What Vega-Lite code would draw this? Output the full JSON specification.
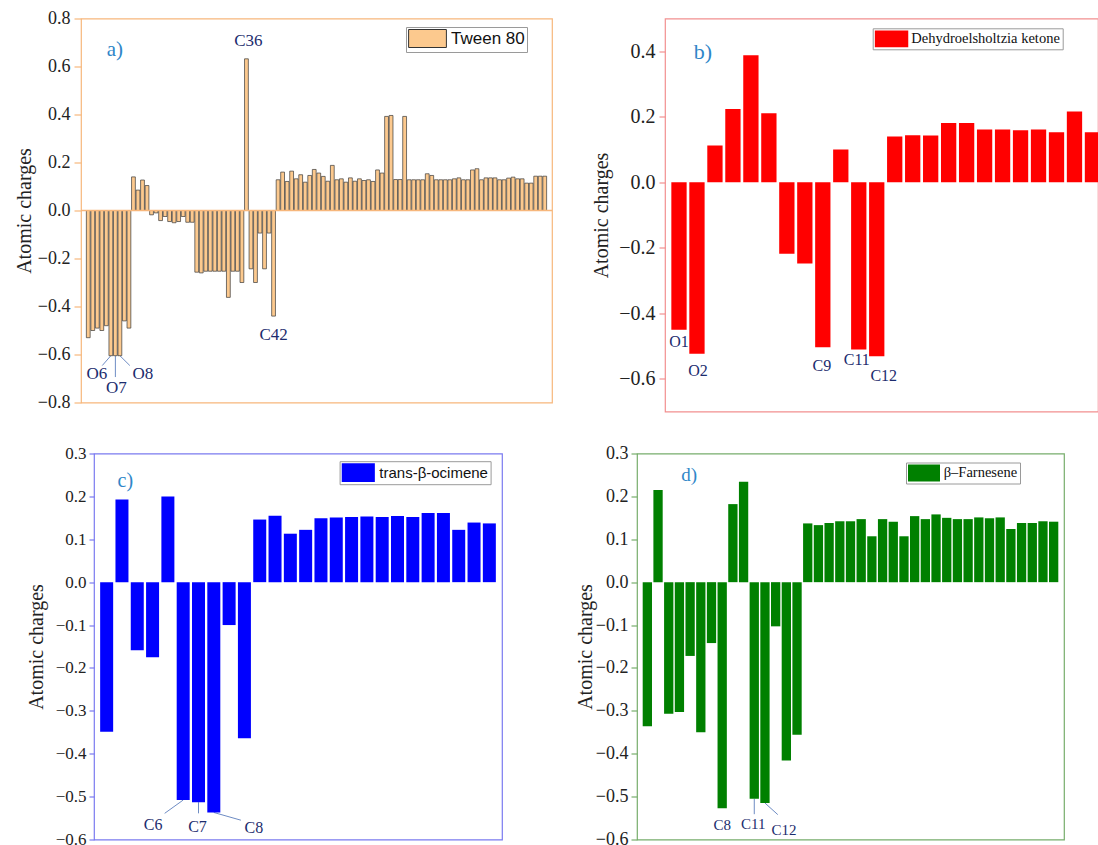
{
  "$schema": "https://vega.github.io/schema/vega-lite/v6.json",
  "background": "white",
  "padding": {"left": 13, "top": 8.5, "right": 0, "bottom": 0},
  "datasets": {
    "tween": [
      {"atom":1,"q":-0.53},{"atom":2,"q":-0.50},{"atom":3,"q":-0.49},{"atom":4,"q":-0.50},{"atom":5,"q":-0.48},
      {"atom":6,"q":-0.605,"label":"O6"},{"atom":7,"q":-0.605,"label":"O7"},{"atom":8,"q":-0.605,"label":"O8"},{"atom":9,"q":-0.46},{"atom":10,"q":-0.49},
      {"atom":11,"q":0.14},{"atom":12,"q":0.085},{"atom":13,"q":0.127},{"atom":14,"q":0.104},{"atom":15,"q":-0.018},
      {"atom":16,"q":-0.01},{"atom":17,"q":-0.042},{"atom":18,"q":-0.025},{"atom":19,"q":-0.046},{"atom":20,"q":-0.051},
      {"atom":21,"q":-0.046},{"atom":22,"q":-0.025},{"atom":23,"q":-0.049},{"atom":24,"q":-0.049},{"atom":25,"q":-0.257},
      {"atom":26,"q":-0.26},{"atom":27,"q":-0.253},{"atom":28,"q":-0.253},{"atom":29,"q":-0.253},{"atom":30,"q":-0.253},
      {"atom":31,"q":-0.253},{"atom":32,"q":-0.362},{"atom":33,"q":-0.253},{"atom":34,"q":-0.253},{"atom":35,"q":-0.30},
      {"atom":36,"q":0.632,"label":"C36"},{"atom":37,"q":-0.243},{"atom":38,"q":-0.30},{"atom":39,"q":-0.094},{"atom":40,"q":-0.243},
      {"atom":41,"q":-0.094},{"atom":42,"q":-0.44,"label":"C42"},
      {"atom":43,"q":0.128},{"atom":44,"q":0.16},{"atom":45,"q":0.121},{"atom":46,"q":0.164},{"atom":47,"q":0.132},
      {"atom":48,"q":0.149},{"atom":49,"q":0.118},{"atom":50,"q":0.146},{"atom":51,"q":0.171},{"atom":52,"q":0.156},
      {"atom":53,"q":0.142},{"atom":54,"q":0.122},{"atom":55,"q":0.188},{"atom":56,"q":0.128},{"atom":57,"q":0.132},
      {"atom":58,"q":0.118},{"atom":59,"q":0.136},{"atom":60,"q":0.122},{"atom":61,"q":0.132},{"atom":62,"q":0.125},
      {"atom":63,"q":0.128},{"atom":64,"q":0.121},{"atom":65,"q":0.169},{"atom":66,"q":0.156},{"atom":67,"q":0.392},
      {"atom":68,"q":0.396},{"atom":69,"q":0.129},{"atom":70,"q":0.129},{"atom":71,"q":0.392},{"atom":72,"q":0.128},
      {"atom":73,"q":0.128},{"atom":74,"q":0.128},{"atom":75,"q":0.128},{"atom":76,"q":0.153},{"atom":77,"q":0.146},
      {"atom":78,"q":0.128},{"atom":79,"q":0.128},{"atom":80,"q":0.128},{"atom":81,"q":0.128},{"atom":82,"q":0.132},
      {"atom":83,"q":0.136},{"atom":84,"q":0.128},{"atom":85,"q":0.128},{"atom":86,"q":0.169},{"atom":87,"q":0.174},
      {"atom":88,"q":0.128},{"atom":89,"q":0.136},{"atom":90,"q":0.136},{"atom":91,"q":0.136},{"atom":92,"q":0.128},
      {"atom":93,"q":0.128},{"atom":94,"q":0.135},{"atom":95,"q":0.139},{"atom":96,"q":0.132},{"atom":97,"q":0.132},
      {"atom":98,"q":0.114},{"atom":99,"q":0.114},{"atom":100,"q":0.143},{"atom":101,"q":0.143},{"atom":102,"q":0.143}
    ],
    "dehydro": [
      {"atom":1,"q":-0.45,"label":"O1"},{"atom":2,"q":-0.524,"label":"O2"},{"atom":3,"q":0.112},{"atom":4,"q":0.224},
      {"atom":5,"q":0.388},{"atom":6,"q":0.211},{"atom":7,"q":-0.218},{"atom":8,"q":-0.248},
      {"atom":9,"q":-0.504,"label":"C9"},{"atom":10,"q":0.10},{"atom":11,"q":-0.511,"label":"C11"},{"atom":12,"q":-0.531,"label":"C12"},
      {"atom":13,"q":0.14},{"atom":14,"q":0.1435},{"atom":15,"q":0.1425},{"atom":16,"q":0.181},{"atom":17,"q":0.181},
      {"atom":18,"q":0.161},{"atom":19,"q":0.161},{"atom":20,"q":0.159},{"atom":21,"q":0.161},{"atom":22,"q":0.153},
      {"atom":23,"q":0.216},{"atom":24,"q":0.153}
    ],
    "ocimene": [
      {"atom":1,"q":-0.349},{"atom":2,"q":0.193},{"atom":3,"q":-0.159},{"atom":4,"q":-0.175},{"atom":5,"q":0.2},
      {"atom":6,"q":-0.508,"label":"C6"},{"atom":7,"q":-0.513,"label":"C7"},{"atom":8,"q":-0.537,"label":"C8"},
      {"atom":9,"q":-0.10},{"atom":10,"q":-0.364},{"atom":11,"q":0.146},{"atom":12,"q":0.155},{"atom":13,"q":0.113},
      {"atom":14,"q":0.122},{"atom":15,"q":0.149},{"atom":16,"q":0.151},{"atom":17,"q":0.152},{"atom":18,"q":0.153},
      {"atom":19,"q":0.152},{"atom":20,"q":0.154},{"atom":21,"q":0.152},{"atom":22,"q":0.161},{"atom":23,"q":0.161},
      {"atom":24,"q":0.122},{"atom":25,"q":0.139},{"atom":26,"q":0.137}
    ],
    "farnesene": [
      {"atom":1,"q":-0.336},{"atom":2,"q":0.215},{"atom":3,"q":-0.307},{"atom":4,"q":-0.303},{"atom":5,"q":-0.172},
      {"atom":6,"q":-0.35},{"atom":7,"q":-0.142},{"atom":8,"q":-0.527,"label":"C8"},{"atom":9,"q":0.182},{"atom":10,"q":0.234},
      {"atom":11,"q":-0.505,"label":"C11"},{"atom":12,"q":-0.515,"label":"C12"},{"atom":13,"q":-0.103},{"atom":14,"q":-0.416},
      {"atom":15,"q":-0.356},{"atom":16,"q":0.137},{"atom":17,"q":0.133},{"atom":18,"q":0.138},{"atom":19,"q":0.142},
      {"atom":20,"q":0.142},{"atom":21,"q":0.147},{"atom":22,"q":0.107},{"atom":23,"q":0.147},{"atom":24,"q":0.141},
      {"atom":25,"q":0.107},{"atom":26,"q":0.154},{"atom":27,"q":0.147},{"atom":28,"q":0.158},{"atom":29,"q":0.150},
      {"atom":30,"q":0.147},{"atom":31,"q":0.147},{"atom":32,"q":0.151},{"atom":33,"q":0.149},{"atom":34,"q":0.151},
      {"atom":35,"q":0.124},{"atom":36,"q":0.138},{"atom":37,"q":0.138},{"atom":38,"q":0.142},{"atom":39,"q":0.141}
    ]
  },
  "spacing": 31,
  "resolve": {"scale": {"color": "independent"}, "legend": {"color": "independent"}},
  "vconcat": [
    {
      "hconcat": [
        {
          "width": 471, "height": 384,
          "view": {"stroke": "#F7B77C", "strokeWidth": 1.2},
          "layer": [
            {
              "data": {"name": "tween"},
              "encoding": {
                "y": {"field": "q", "type": "quantitative", "stack": null,
                  "scale": {"domain": [-0.8, 0.8], "nice": false},
                  "axis": {"title": "Atomic charges", "values": [-0.8,-0.6,-0.4,-0.2,0,0.2,0.4,0.6,0.8], "format": ".1f",
                    "grid": false, "domain": false, "tickColor": "#F7B77C", "tickWidth": 1.2, "tickSize": 7, "labelPadding": 4,
                    "labelFont": "Liberation Serif", "labelFontSize": 18, "labelColor": "#222222",
                    "titleFont": "Liberation Serif", "titleFontSize": 20, "titleFontWeight": "normal", "titleColor": "#222222",
                    "titlePadding": 5, "minExtent": 42, "maxExtent": 42}}
              },
              "layer": [
                {"transform": [{"filter": "datum.label === 'O6'"}],
                 "mark": {"type": "rule", "color": "#6E8CC4", "strokeWidth": 1},
                 "encoding": {"x": {"field": "atom", "type": "quantitative", "scale": {"domain": [0.5, 102.5], "nice": false, "zero": false}, "axis": null},
                   "x2": {"datum": 4.1}, "y2": {"datum": -0.646}}},
                {"transform": [{"filter": "datum.label === 'O7'"}],
                 "mark": {"type": "rule", "color": "#6E8CC4", "strokeWidth": 1},
                 "encoding": {"x": {"field": "atom", "type": "quantitative", "scale": {"domain": [0.5, 102.5], "nice": false, "zero": false}, "axis": null},
                   "y2": {"datum": -0.694}}},
                {"transform": [{"filter": "datum.label === 'O8'"}],
                 "mark": {"type": "rule", "color": "#6E8CC4", "strokeWidth": 1},
                 "encoding": {"x": {"field": "atom", "type": "quantitative", "scale": {"domain": [0.5, 102.5], "nice": false, "zero": false}, "axis": null},
                   "x2": {"datum": 10.2}, "y2": {"datum": -0.646}}},
                {"mark": {"type": "bar", "orient": "vertical", "width": 3.8, "stroke": "#3a3a3a", "strokeWidth": 0.7},
                 "encoding": {
                   "x": {"field": "atom", "type": "quantitative", "scale": {"domain": [0.5, 102.5], "nice": false, "zero": false}, "axis": null},
                   "color": {"datum": "Tween 80", "type": "nominal", "scale": {"range": ["#FCC98E"]},
                     "legend": {"orient": "none", "legendX": 325, "legendY": 8.5, "title": null,
                       "symbolType": "M-2.1,-1H2.1V1H-2.1Z", "symbolSize": 324, "symbolOffset": 10,
                       "symbolStrokeColor": "#333333", "symbolStrokeWidth": 1,
                       "labelFont": "Liberation Sans", "labelFontSize": 17, "labelColor": "#111111", "labelOffset": 14,
                       "strokeColor": "#9a9a9a", "fillColor": "#ffffff", "padding": 2}}}},
                {"data": {"values": [{"q": 0}]},
                 "mark": {"type": "rule", "color": "#F7B77C", "strokeWidth": 1.5},
                 "encoding": {}},
                {"transform": [{"filter": "datum.label === 'C36'"}],
                 "mark": {"type": "text", "dx": 2, "dy": -18, "font": "Liberation Serif", "fontSize": 17, "color": "#1C2C6E"},
                 "encoding": {"x": {"field": "atom", "type": "quantitative", "scale": {"domain": [0.5, 102.5], "nice": false, "zero": false}, "axis": null},
                   "text": {"field": "label"}}},
                {"transform": [{"filter": "datum.label === 'C42'"}],
                 "mark": {"type": "text", "dx": 0, "dy": 19, "font": "Liberation Serif", "fontSize": 17, "color": "#1C2C6E"},
                 "encoding": {"x": {"field": "atom", "type": "quantitative", "scale": {"domain": [0.5, 102.5], "nice": false, "zero": false}, "axis": null},
                   "text": {"field": "label"}}},
                {"transform": [{"filter": "datum.label === 'O6'"}],
                 "mark": {"type": "text", "dx": -14, "dy": 18, "font": "Liberation Serif", "fontSize": 17, "color": "#1C2C6E"},
                 "encoding": {"x": {"field": "atom", "type": "quantitative", "scale": {"domain": [0.5, 102.5], "nice": false, "zero": false}, "axis": null},
                   "text": {"field": "label"}}},
                {"transform": [{"filter": "datum.label === 'O7'"}],
                 "mark": {"type": "text", "dx": 1, "dy": 32, "font": "Liberation Serif", "fontSize": 17, "color": "#1C2C6E"},
                 "encoding": {"x": {"field": "atom", "type": "quantitative", "scale": {"domain": [0.5, 102.5], "nice": false, "zero": false}, "axis": null},
                   "text": {"field": "label"}}},
                {"transform": [{"filter": "datum.label === 'O8'"}],
                 "mark": {"type": "text", "dx": 23, "dy": 18, "font": "Liberation Serif", "fontSize": 17, "color": "#1C2C6E"},
                 "encoding": {"x": {"field": "atom", "type": "quantitative", "scale": {"domain": [0.5, 102.5], "nice": false, "zero": false}, "axis": null},
                   "text": {"field": "label"}}}
              ]
            },
            {"data": {"values": [{"panel": "a)"}]},
             "mark": {"type": "text", "align": "left", "baseline": "alphabetic", "font": "Liberation Serif", "fontSize": 21, "color": "#2F86C8"},
             "encoding": {"x": {"datum": 5.07, "type": "quantitative", "scale": {"domain": [0.5, 102.5], "nice": false, "zero": false}, "axis": null},
               "y": {"datum": 0.645, "type": "quantitative", "scale": {"domain": [-0.8, 0.8], "nice": false}},
               "text": {"field": "panel"}}}
          ]
        },
        {
          "width": 433, "height": 393,
          "view": {"stroke": "#F29090", "strokeWidth": 1.2},
          "layer": [
            {
              "data": {"name": "dehydro"},
              "encoding": {
                "y": {"field": "q", "type": "quantitative", "stack": null,
                  "scale": {"domain": [-0.7, 0.5], "nice": false},
                  "axis": {"title": "Atomic charges", "values": [-0.6,-0.4,-0.2,0,0.2,0.4], "format": ".1f",
                    "grid": false, "domain": false, "tickColor": "#F29090", "tickWidth": 1.2, "tickSize": 6, "labelPadding": 4,
                    "labelFont": "Liberation Serif", "labelFontSize": 20, "labelColor": "#222222",
                    "titleFont": "Liberation Serif", "titleFontSize": 20, "titleFontWeight": "normal", "titleColor": "#222222",
                    "titlePadding": 7, "minExtent": 47, "maxExtent": 47}}
              },
              "layer": [
                {"mark": {"type": "bar", "orient": "vertical", "width": 15.3, "clip": true},
                 "encoding": {
                   "x": {"field": "atom", "type": "quantitative", "scale": {"domain": [0.5, 24.03], "nice": false, "zero": false}, "axis": null},
                   "color": {"datum": "Dehydroelsholtzia ketone", "type": "nominal", "scale": {"range": ["#FF0000"]},
                     "legend": {"orient": "none", "legendX": 207.7, "legendY": 9.8, "title": null,
                       "symbolType": "M-2,-1H2V1H-2Z", "symbolSize": 279, "symbolOffset": 8.35, "symbolStrokeWidth": 0,
                       "labelFont": "Liberation Serif", "labelFontSize": 14.5, "labelColor": "#111111", "labelOffset": 11.2,
                       "strokeColor": "#9a9a9a", "fillColor": "#ffffff", "padding": 2, "labelLimit": 400}}}},
                {"transform": [{"filter": "datum.label === 'O1'"}],
                 "mark": {"type": "text", "dx": 0, "dy": 12, "font": "Liberation Serif", "fontSize": 16, "color": "#1C2C6E"},
                 "encoding": {"x": {"field": "atom", "type": "quantitative", "scale": {"domain": [0.5, 24.03], "nice": false, "zero": false}, "axis": null},
                   "text": {"field": "label"}}},
                {"transform": [{"filter": "datum.label === 'O2'"}],
                 "mark": {"type": "text", "dx": 1, "dy": 17, "font": "Liberation Serif", "fontSize": 16, "color": "#1C2C6E"},
                 "encoding": {"x": {"field": "atom", "type": "quantitative", "scale": {"domain": [0.5, 24.03], "nice": false, "zero": false}, "axis": null},
                   "text": {"field": "label"}}},
                {"transform": [{"filter": "datum.label === 'C9'"}],
                 "mark": {"type": "text", "dx": -1, "dy": 19, "font": "Liberation Serif", "fontSize": 16, "color": "#1C2C6E"},
                 "encoding": {"x": {"field": "atom", "type": "quantitative", "scale": {"domain": [0.5, 24.03], "nice": false, "zero": false}, "axis": null},
                   "text": {"field": "label"}}},
                {"transform": [{"filter": "datum.label === 'C11'"}],
                 "mark": {"type": "text", "dx": -2, "dy": 10, "font": "Liberation Serif", "fontSize": 16, "color": "#1C2C6E"},
                 "encoding": {"x": {"field": "atom", "type": "quantitative", "scale": {"domain": [0.5, 24.03], "nice": false, "zero": false}, "axis": null},
                   "text": {"field": "label"}}},
                {"transform": [{"filter": "datum.label === 'C12'"}],
                 "mark": {"type": "text", "dx": 7, "dy": 20, "font": "Liberation Serif", "fontSize": 16, "color": "#1C2C6E"},
                 "encoding": {"x": {"field": "atom", "type": "quantitative", "scale": {"domain": [0.5, 24.03], "nice": false, "zero": false}, "axis": null},
                   "text": {"field": "label"}}}
              ]
            },
            {"data": {"values": [{"panel": "b)"}]},
             "mark": {"type": "text", "align": "left", "baseline": "alphabetic", "font": "Liberation Serif", "fontSize": 22, "color": "#2F86C8"},
             "encoding": {"x": {"datum": 1.82, "type": "quantitative", "scale": {"domain": [0.5, 24.03], "nice": false, "zero": false}, "axis": null},
               "y": {"datum": 0.376, "type": "quantitative", "scale": {"domain": [-0.7, 0.5], "nice": false}},
               "text": {"field": "panel"}}}
          ]
        }
      ],
      "spacing": 113,
      "bounds": "flush",
      "resolve": {"scale": {"color": "independent"}, "legend": {"color": "independent"}}
    },
    {
      "hconcat": [
        {"width": 1, "height": 10, "data": {"values": []}, "mark": {"type": "point", "opacity": 0}, "view": {"stroke": null}},
        {
          "width": 408, "height": 386,
          "view": {"stroke": "#7B7BF0", "strokeWidth": 1.2},
          "layer": [
            {
              "data": {"name": "ocimene"},
              "encoding": {
                "y": {"field": "q", "type": "quantitative", "stack": null,
                  "scale": {"domain": [-0.6, 0.3], "nice": false},
                  "axis": {"title": "Atomic charges", "values": [-0.6,-0.5,-0.4,-0.3,-0.2,-0.1,0,0.1,0.2,0.3], "format": ".1f",
                    "grid": false, "domain": false, "tickColor": "#7B7BF0", "tickWidth": 1.2, "tickSize": 5, "labelPadding": 3,
                    "labelFont": "Liberation Serif", "labelFontSize": 17, "labelColor": "#222222",
                    "titleFont": "Liberation Serif", "titleFontSize": 20, "titleFontWeight": "normal", "titleColor": "#222222",
                    "titlePadding": 5, "minExtent": 43, "maxExtent": 43}}
              },
              "layer": [
                {"transform": [{"filter": "datum.label === 'C6'"}],
                 "mark": {"type": "rule", "color": "#6E8CC4", "strokeWidth": 1},
                 "encoding": {"x": {"field": "atom", "type": "quantitative", "scale": {"domain": [0.5, 26.5], "nice": false, "zero": false}, "axis": null},
                   "x2": {"datum": 4.79}, "y2": {"datum": -0.539}}},
                {"transform": [{"filter": "datum.label === 'C7'"}],
                 "mark": {"type": "rule", "color": "#6E8CC4", "strokeWidth": 1},
                 "encoding": {"x": {"field": "atom", "type": "quantitative", "scale": {"domain": [0.5, 26.5], "nice": false, "zero": false}, "axis": null},
                   "y2": {"datum": -0.539}}},
                {"transform": [{"filter": "datum.label === 'C8'"}],
                 "mark": {"type": "rule", "color": "#6E8CC4", "strokeWidth": 1},
                 "encoding": {"x": {"field": "atom", "type": "quantitative", "scale": {"domain": [0.5, 26.5], "nice": false, "zero": false}, "axis": null},
                   "x2": {"datum": 9.77}, "y2": {"datum": -0.555}}},
                {"mark": {"type": "bar", "orient": "vertical", "width": 13},
                 "encoding": {
                   "x": {"field": "atom", "type": "quantitative", "scale": {"domain": [0.5, 26.5], "nice": false, "zero": false}, "axis": null},
                   "color": {"datum": "trans-β-ocimene", "type": "nominal", "scale": {"range": ["#0000FF"]},
                     "legend": {"orient": "none", "legendX": 245.6, "legendY": 7.7, "title": null,
                       "symbolType": "M-1.77,-1H1.77V1H-1.77Z", "symbolSize": 350, "symbolOffset": 7.2, "symbolStrokeWidth": 0,
                       "labelFont": "Liberation Sans", "labelFontSize": 15, "labelColor": "#111111", "labelOffset": 11.5,
                       "strokeColor": "#9a9a9a", "fillColor": "#ffffff", "padding": 2, "labelLimit": 400}}}},
                {"transform": [{"filter": "datum.label === 'C6'"}],
                 "mark": {"type": "text", "dx": -30, "dy": 25, "font": "Liberation Serif", "fontSize": 16, "color": "#1C2C6E"},
                 "encoding": {"x": {"field": "atom", "type": "quantitative", "scale": {"domain": [0.5, 26.5], "nice": false, "zero": false}, "axis": null},
                   "text": {"field": "label"}}},
                {"transform": [{"filter": "datum.label === 'C7'"}],
                 "mark": {"type": "text", "dx": -1, "dy": 25, "font": "Liberation Serif", "fontSize": 16, "color": "#1C2C6E"},
                 "encoding": {"x": {"field": "atom", "type": "quantitative", "scale": {"domain": [0.5, 26.5], "nice": false, "zero": false}, "axis": null},
                   "text": {"field": "label"}}},
                {"transform": [{"filter": "datum.label === 'C8'"}],
                 "mark": {"type": "text", "dx": 40, "dy": 16, "font": "Liberation Serif", "fontSize": 16, "color": "#1C2C6E"},
                 "encoding": {"x": {"field": "atom", "type": "quantitative", "scale": {"domain": [0.5, 26.5], "nice": false, "zero": false}, "axis": null},
                   "text": {"field": "label"}}}
              ]
            },
            {"data": {"values": [{"panel": "c)"}]},
             "mark": {"type": "text", "align": "left", "baseline": "alphabetic", "font": "Liberation Serif", "fontSize": 20, "color": "#2F86C8"},
             "encoding": {"x": {"datum": 1.71, "type": "quantitative", "scale": {"domain": [0.5, 26.5], "nice": false, "zero": false}, "axis": null},
               "y": {"datum": 0.221, "type": "quantitative", "scale": {"domain": [-0.6, 0.3], "nice": false}},
               "text": {"field": "panel"}}}
          ]
        },
        {"width": 111, "height": 10, "data": {"values": []}, "mark": {"type": "point", "opacity": 0}, "view": {"stroke": null}},
        {
          "width": 427, "height": 386,
          "view": {"stroke": "#77AD6C", "strokeWidth": 1.2},
          "layer": [
            {
              "data": {"name": "farnesene"},
              "encoding": {
                "y": {"field": "q", "type": "quantitative", "stack": null,
                  "scale": {"domain": [-0.6, 0.3], "nice": false},
                  "axis": {"title": "Atomic charges", "values": [-0.6,-0.5,-0.4,-0.3,-0.2,-0.1,0,0.1,0.2,0.3], "format": ".1f",
                    "grid": false, "domain": false, "tickColor": "#77AD6C", "tickWidth": 1.2, "tickSize": 6, "labelPadding": 3,
                    "labelFont": "Liberation Serif", "labelFontSize": 18, "labelColor": "#222222",
                    "titleFont": "Liberation Serif", "titleFontSize": 20, "titleFontWeight": "normal", "titleColor": "#222222",
                    "titlePadding": 2, "minExtent": 40, "maxExtent": 40}}
              },
              "layer": [
                {"transform": [{"filter": "datum.label === 'C11'"}],
                 "mark": {"type": "rule", "color": "#6E8CC4", "strokeWidth": 1},
                 "encoding": {"x": {"field": "atom", "type": "quantitative", "scale": {"domain": [0.5, 39.5], "nice": false, "zero": false}, "axis": null},
                   "y2": {"datum": -0.541}}},
                {"transform": [{"filter": "datum.label === 'C12'"}],
                 "mark": {"type": "rule", "color": "#6E8CC4", "strokeWidth": 1},
                 "encoding": {"x": {"field": "atom", "type": "quantitative", "scale": {"domain": [0.5, 39.5], "nice": false, "zero": false}, "axis": null},
                   "x2": {"datum": 13.2}, "y2": {"datum": -0.542}}},
                {"mark": {"type": "bar", "orient": "vertical", "width": 9.3},
                 "encoding": {
                   "x": {"field": "atom", "type": "quantitative", "scale": {"domain": [0.5, 39.5], "nice": false, "zero": false}, "axis": null},
                   "color": {"datum": "β–Farnesene", "type": "nominal", "scale": {"range": ["#008000"]},
                     "legend": {"orient": "none", "legendX": 269, "legendY": 9, "title": null,
                       "symbolType": "M-1.88,-1H1.88V1H-1.88Z", "symbolSize": 289, "symbolOffset": 7.5, "symbolStrokeWidth": 0,
                       "labelFont": "Liberation Serif", "labelFontSize": 14.5, "labelColor": "#111111", "labelOffset": 11.2,
                       "strokeColor": "#9a9a9a", "fillColor": "#ffffff", "padding": 2, "labelLimit": 400}}}},
                {"transform": [{"filter": "datum.label === 'C8'"}],
                 "mark": {"type": "text", "dx": 0, "dy": 17, "font": "Liberation Serif", "fontSize": 15, "color": "#1C2C6E"},
                 "encoding": {"x": {"field": "atom", "type": "quantitative", "scale": {"domain": [0.5, 39.5], "nice": false, "zero": false}, "axis": null},
                   "text": {"field": "label"}}},
                {"transform": [{"filter": "datum.label === 'C11'"}],
                 "mark": {"type": "text", "dx": -1, "dy": 25, "font": "Liberation Serif", "fontSize": 15, "color": "#1C2C6E"},
                 "encoding": {"x": {"field": "atom", "type": "quantitative", "scale": {"domain": [0.5, 39.5], "nice": false, "zero": false}, "axis": null},
                   "text": {"field": "label"}}},
                {"transform": [{"filter": "datum.label === 'C12'"}],
                 "mark": {"type": "text", "dx": 19, "dy": 27, "font": "Liberation Serif", "fontSize": 15, "color": "#1C2C6E"},
                 "encoding": {"x": {"field": "atom", "type": "quantitative", "scale": {"domain": [0.5, 39.5], "nice": false, "zero": false}, "axis": null},
                   "text": {"field": "label"}}}
              ]
            },
            {"data": {"values": [{"panel": "d)"}]},
             "mark": {"type": "text", "align": "left", "baseline": "alphabetic", "font": "Liberation Serif", "fontSize": 19, "color": "#2F86C8"},
             "encoding": {"x": {"datum": 4.16, "type": "quantitative", "scale": {"domain": [0.5, 39.5], "nice": false, "zero": false}, "axis": null},
               "y": {"datum": 0.236, "type": "quantitative", "scale": {"domain": [-0.6, 0.3], "nice": false}},
               "text": {"field": "panel"}}}
          ]
        }
      ],
      "spacing": 12,
      "bounds": "flush",
      "resolve": {"scale": {"color": "independent"}, "legend": {"color": "independent"}}
    }
  ]
}
